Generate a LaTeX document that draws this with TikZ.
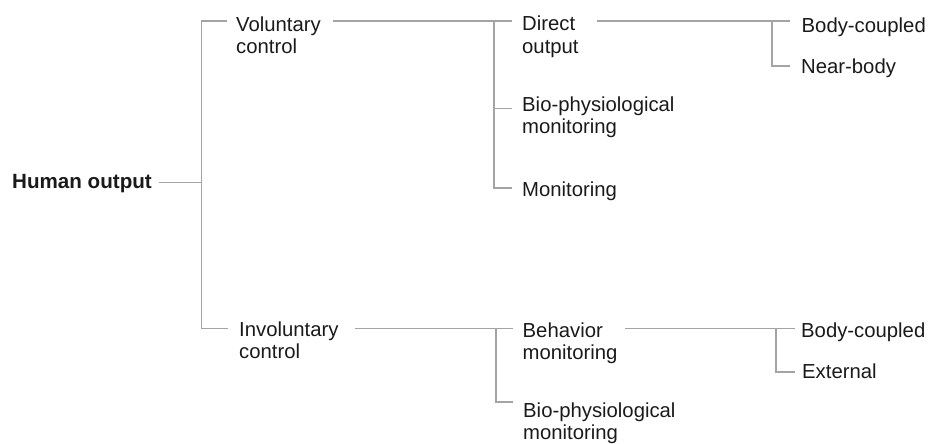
\documentclass[tikz,border=0pt]{standalone}
\usepackage{fontspec}
\setmainfont{Liberation Sans}
\definecolor{txt}{HTML}{1A1A1A}
\definecolor{lineclr}{HTML}{A4A4A4}
\begin{document}
\begin{tikzpicture}[x=1pt,y=-1pt,
  % multi-line labels sit on the baseline of their last line
  lbl/.style={anchor=base west, inner sep=0pt, align=left,
    font=\fontsize{20.3}{22.5}\selectfont, text=txt},
  rootlbl/.style={lbl, font=\fontsize{20.6}{22.5}\selectfont\bfseries},
  branch/.style={draw=lineclr, line width=1.8pt},
]
\useasboundingbox (0,0) rectangle (930,444);

% labels
\node[rootlbl] (human) at (12,188) {Human output};
\node[lbl] (vol)   at (236,54) {Voluntary\\control};
\node[lbl] (invol) at (239,358.5)  {Involuntary\\control};
\node[lbl] (direct) at (522,53.5)  {Direct\\output};
\node[lbl] (bioA)   at (522,134) {Bio-physiological\\monitoring};
\node[lbl] (mon)    at (522,196) {Monitoring};
\node[lbl] (beh)    at (522.5,359.5) {Behavior\\monitoring};
\node[lbl] (bioB)   at (523,439.5) {Bio-physiological\\monitoring};
\node[lbl] (bcA)    at (801.5,32.3) {Body-coupled};
\node[lbl] (near)   at (801,73.3) {Near-body};
\node[lbl] (bcB)    at (801,337.3) {Body-coupled};
\node[lbl] (ext)    at (802,378.3) {External};

% root fork
\coordinate (rootIn) at (159,182.5);
\coordinate (spineMid) at (201.5,182.5);
\coordinate (spineTop) at (201.5,21);
\coordinate (spineBot) at (201.5,328.5);
\coordinate (volIn)   at (227,21);
\coordinate (involIn) at (228,328.5);
\draw[branch] (rootIn) -- (spineMid);
\draw[branch] (volIn) -- (spineTop) -- (spineBot) -- (involIn);

% voluntary control fork
\coordinate (volOut)  at (333,21);
\coordinate (vTop)    at (494,21);
\coordinate (vMid)    at (494,108.5);
\coordinate (vBot)    at (494,188);
\coordinate (directIn) at (512,21);
\coordinate (bioAIn)  at (512,108.5);
\coordinate (monIn)   at (512,188);
\draw[branch] (volOut) -- (directIn);
\draw[branch] (vTop) -- (vBot) -- (monIn);
\draw[branch] (vMid) -- (bioAIn);

% direct output fork
\coordinate (directOut) at (597,21);
\coordinate (dTop)  at (772,21);
\coordinate (dBot)  at (772,66);
\coordinate (bcAIn) at (790,21);
\coordinate (nearIn) at (790,66);
\draw[branch] (directOut) -- (bcAIn);
\draw[branch] (dTop) -- (dBot) -- (nearIn);

% involuntary control fork
\coordinate (involOut) at (355,328.5);
\coordinate (iTop)  at (496,328.5);
\coordinate (iBot)  at (496,402);
\coordinate (behIn) at (513,328.5);
\coordinate (bioBIn) at (513,402);
\draw[branch] (involOut) -- (behIn);
\draw[branch] (iTop) -- (iBot) -- (bioBIn);

% behavior monitoring fork
\coordinate (behOut) at (625,328.5);
\coordinate (bTop)  at (776,328.5);
\coordinate (bBot)  at (776,372);
\coordinate (bcBIn) at (795,328.5);
\coordinate (extIn) at (795,372);
\draw[branch] (behOut) -- (bcBIn);
\draw[branch] (bTop) -- (bBot) -- (extIn);
\end{tikzpicture}
\end{document}
